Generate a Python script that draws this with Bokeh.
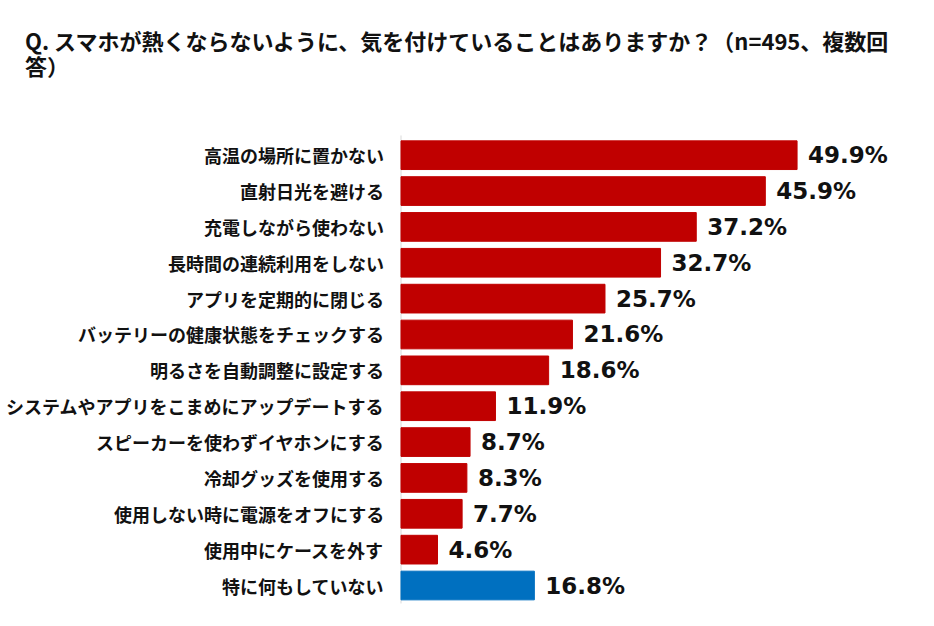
from bokeh.plotting import figure
from bokeh.models import ColumnDataSource, Range1d
from bokeh.core.properties import value
from bokeh.embed import file_html
from bokeh.resources import INLINE

categories = [
    "高温の場所に置かない",
    "直射日光を避ける",
    "充電しながら使わない",
    "長時間の連続利用をしない",
    "アプリを定期的に閉じる",
    "バッテリーの健康状態をチェックする",
    "明るさを自動調整に設定する",
    "システムやアプリをこまめにアップデートする",
    "スピーカーを使わずイヤホンにする",
    "冷却グッズを使用する",
    "使用しない時に電源をオフにする",
    "使用中にケースを外す",
    "特に何もしていない",
]
values = [49.9, 45.9, 37.2, 32.7, 25.7, 21.6, 18.6, 11.9, 8.7, 8.3, 7.7, 4.6, 16.8]
colors = ["#C00000"] * 12 + ["#0070C0"]
labels = [f"{v:.1f}%" for v in values]
title_text = "Q. スマホが熱くならないように、気を付けていることはありますか？（n=495、複数回\n答）"

rows = [-i for i in range(len(categories))]
src = ColumnDataSource(dict(cat=categories, row=rows, val=values, color=colors, label=labels))

p = figure(width=918, height=610, output_backend="svg", toolbar_location=None,
           x_axis_location=None, y_axis_location=None,
           x_range=Range1d(-50.46, 65.2), y_range=Range1d(-12.697, 4.314),
           min_border_left=0, min_border_right=0, min_border_top=0, min_border_bottom=0)
p.xgrid.visible = False
p.ygrid.visible = False
p.outline_line_color = None

# axis line
p.segment(x0=[0], y0=[rows[0] + 0.55], x1=[0], y1=[rows[-1] - 0.5],
          line_color="#D9D9D9", line_width=1)

p.hbar(y="row", right="val", left=0, height=0.8, color="color", source=src)

# value labels
p.text(x="val", y="row", text="label", source=src, x_offset=11,
       text_baseline="middle", text_align="left",
       text_font=value("DejaVu Sans"), text_font_style="bold",
       text_font_size="23px", text_color="#111111")

# category labels
p.text(x=0, y="row", text="cat", source=src, x_offset=-17,
       text_baseline="middle", text_align="right",
       text_font=value("Noto Sans CJK JP"), text_font_style="bold",
       text_font_size="18px", text_color="#111111")

# title
p.text(x=[0], y=[3.65], text=[title_text], x_offset=-376,
       text_baseline="top", text_align="left",
       text_font=value("Noto Sans CJK JP"), text_font_style="bold",
       text_font_size="22px", text_color="#111111", text_line_height=0.78)

open("out.html", "w").write(file_html(p, INLINE))
